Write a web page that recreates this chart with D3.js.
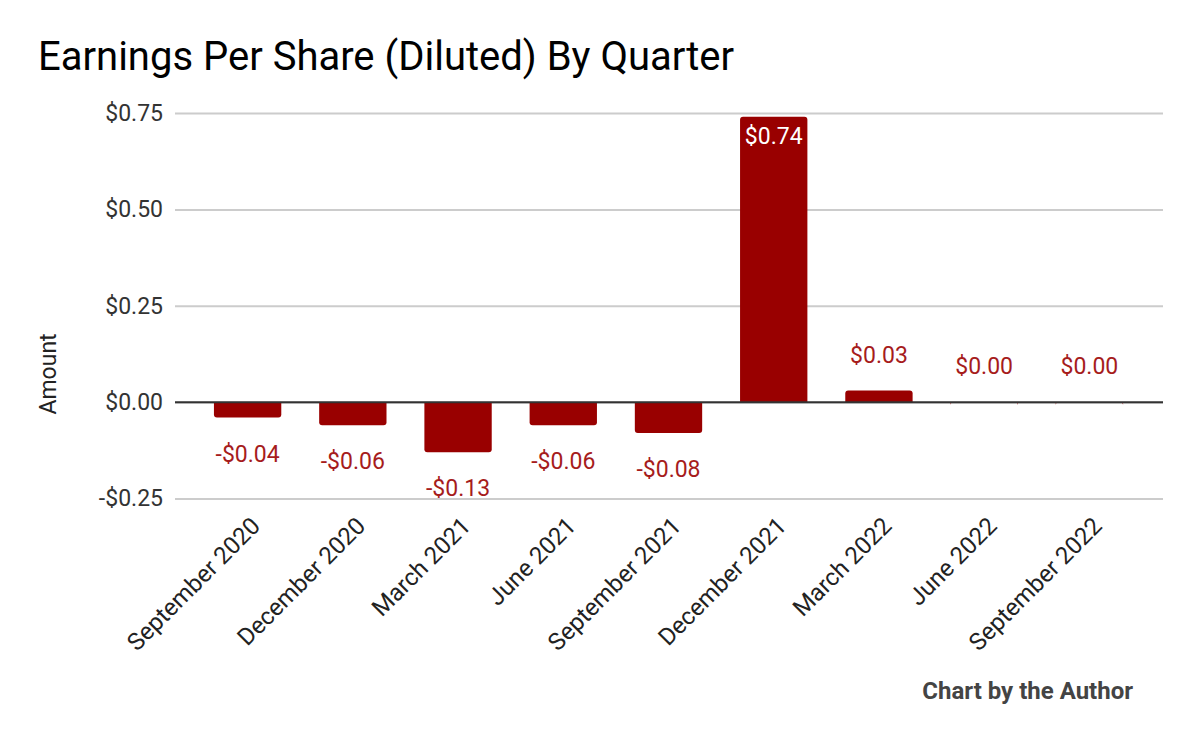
<!DOCTYPE html>
<html><head><meta charset="utf-8">
<script src="https://cdn.jsdelivr.net/npm/d3@7"></script>
<style>body{margin:0;background:#fff;}svg{display:block;font-family:Roboto,sans-serif;}</style>
</head><body>
<script>
const categories = ["September 2020","December 2020","March 2021","June 2021","September 2021","December 2021","March 2022","June 2022","September 2022"];
const eps = [-0.04,-0.06,-0.13,-0.06,-0.08,0.74,0.03,0.00,0.00];
const yTicks = [-0.25,0,0.25,0.5,0.75];
const title = "Earnings Per Share (Diluted) By Quarter";
const yTitle = "Amount";
const credit = "Chart by the Author";

const W=1200,H=742;
const svg=d3.select("body").append("svg").attr("width",W).attr("height",H);
const y=d3.scaleLinear().domain([-0.25,0.75]).range([498.5,113]);
const x=d3.scaleBand().domain(categories).range([195,1142]).paddingInner(0.36).paddingOuter(0.18);
const fmt=v=>(v<0?"-":"")+"$"+Math.abs(v).toFixed(2);
const gl=175, gr=1163;

svg.append("text").attr("x",38).attr("y",70).attr("font-size",40).attr("fill","#000").text(title);

const yAxis=svg.append("g").attr("transform",`translate(${gl},0)`)
 .call(d3.axisLeft(y).tickValues(yTicks).tickFormat(fmt).tickSize(-(gr-gl)).tickPadding(12));
yAxis.select(".domain").remove();
yAxis.selectAll(".tick line").attr("stroke","#cccccc").attr("stroke-width",2);
yAxis.selectAll(".tick text").attr("font-size",23).attr("fill","#333").attr("font-family","Roboto");

svg.append("text").attr("transform",`translate(56,374) rotate(-90)`).attr("text-anchor","middle")
 .attr("font-size",23).attr("fill","#222").text(yTitle);

const r=3;
function barPath(d,i){
  const x0=x(categories[i]), w=x.bandwidth(), y0=y(0), y1=y(d);
  if(d>=0){
    return `M${x0},${y0}V${y1+r}Q${x0},${y1} ${x0+r},${y1}H${x0+w-r}Q${x0+w},${y1} ${x0+w},${y1+r}V${y0}Z`;
  } else {
    return `M${x0},${y0}V${y1-r}Q${x0},${y1} ${x0+r},${y1}H${x0+w-r}Q${x0+w},${y1} ${x0+w},${y1-r}V${y0}Z`;
  }
}
svg.append("g").selectAll("path").data(eps).join("path").attr("d",barPath).attr("fill","#990000");

svg.append("line").attr("x1",gl).attr("x2",gr).attr("y1",y(0)).attr("y2",y(0)).attr("stroke","#333").attr("stroke-width",2);

svg.append("g").selectAll("text").data(eps).join("text")
 .attr("x",(d,i)=>x(categories[i])+x.bandwidth()/2)
 .attr("y",d=> d<0 ? y(d)+44 : (d>0.5 ? y(d)+27 : y(d)-28))
 .attr("text-anchor","middle").attr("font-size",23)
 .attr("fill",d=>d>0.5?"#fff":"#a61c1c").text(fmt);

const xAxis=svg.append("g").attr("transform",`translate(0,${y(-0.25)})`)
 .call(d3.axisBottom(x).tickSize(0).tickPadding(0));
xAxis.select(".domain").remove();
xAxis.selectAll(".tick text").attr("font-size",24).attr("fill","#222").attr("font-family","Roboto")
 .attr("text-anchor","end").attr("dy",0)
 .attr("transform","translate(14,29) rotate(-45)");

svg.append("text").attr("x",1133).attr("y",699).attr("text-anchor","end").attr("font-size",24)
 .attr("font-weight","bold").attr("fill","#444").text(credit);
</script>
</body></html>
